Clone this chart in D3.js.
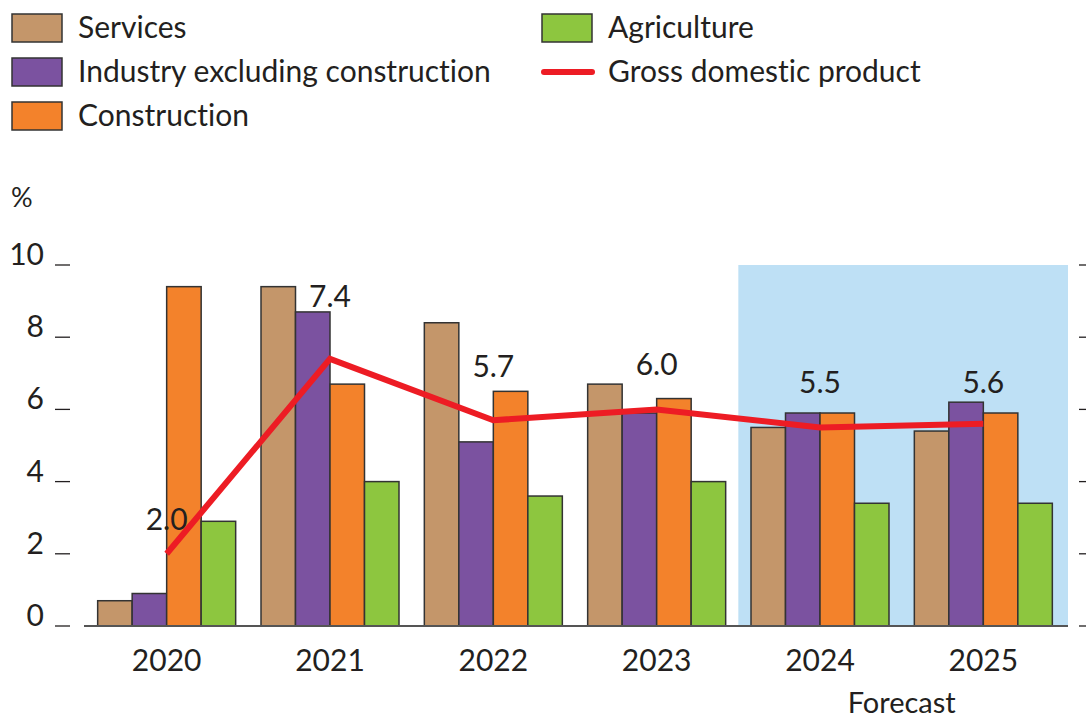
<!DOCTYPE html>
<html>
<head>
<meta charset="utf-8">
<script src="https://cdn.jsdelivr.net/npm/d3@7"></script>
<style>
  body { margin: 0; background: #fff; }
  svg text { font-family: Lato, "Open Sans", sans-serif; fill: #231F20; font-variant-ligatures: none; }
</style>
</head>
<body>
<div id="chart"></div>
<script>
// data
const years = ["2020", "2021", "2022", "2023", "2024", "2025"];
const seriesNames = ["Services", "Industry excluding construction", "Construction", "Agriculture"];
const services = [0.7, 9.4, 8.4, 6.7, 5.5, 5.4];
const industry = [0.9, 8.7, 5.1, 5.9, 5.9, 6.2];
const construction = [9.4, 6.7, 6.5, 6.3, 5.9, 5.9];
const agriculture = [2.9, 4.0, 3.6, 4.0, 3.4, 3.4];
const gdp = [2.0, 7.4, 5.7, 6.0, 5.5, 5.6];
// where each gdp label sits, in % units
const gdpLabelAt = [2.65, 8.85, 6.9, 6.95, 6.45, 6.45];
const forecastYears = ["2024", "2025"];
const yTicks = [0, 2, 4, 6, 8, 10];

const COLORS = ["#C4966A", "#7B52A0", "#F3822B", "#8DC63F"];
const GDP_COLOR = "#ED1C24";

// setting up constants
const FRAME_WIDTH = 1086;
const FRAME_HEIGHT = 720;
const MARGINS = {left: 85, right: 21, top: 265, bottom: 94};

const FRAME = d3.select("#chart")
    .append("svg")
    .attr("width", FRAME_WIDTH)
    .attr("height", FRAME_HEIGHT);

const values = [services, industry, construction, agriculture];
const rows = years.map((y, i) => ({year: y, vals: values.map(v => v[i])}));

// scales
const xScale = d3.scaleBand()
    .domain(years)
    .range([MARGINS.left, 1065]);
const xInner = d3.scaleBand()
    .domain(seriesNames)
    .range([-69, 69]);
const yScale = d3.scaleLinear()
    .domain([0, 10])
    .range([626, 265]);

// forecast shading
FRAME.append("rect")
    .attr("x", xScale(forecastYears[0]))
    .attr("y", yScale(10))
    .attr("width", 1068 - xScale(forecastYears[0]))
    .attr("height", yScale(0) - yScale(10))
    .attr("fill", "#BEE0F5");

// left axis: short ticks with labels
const leftAxis = FRAME.append("g");
leftAxis.selectAll("line")
    .data(yTicks)
    .enter().append("line")
    .attr("x1", 55).attr("x2", 70)
    .attr("y1", d => yScale(d)).attr("y2", d => yScale(d))
    .attr("stroke", "#231F20").attr("stroke-width", 1.3);
leftAxis.selectAll("text")
    .data(yTicks)
    .enter().append("text")
    .attr("x", 44)
    .attr("y", d => yScale(d))
    .attr("text-anchor", "end")
    .attr("font-size", 30)
    .text(d => d);

// right axis: ticks only
FRAME.append("g").selectAll("line")
    .data(yTicks)
    .enter().append("line")
    .attr("x1", 1079).attr("x2", 1086)
    .attr("y1", d => yScale(d)).attr("y2", d => yScale(d))
    .attr("stroke", "#231F20").attr("stroke-width", 1.3);

// "%" unit label
FRAME.append("text")
    .attr("x", 11).attr("y", 207)
    .attr("font-size", 27)
    .text("%");

// bars
FRAME.append("g").selectAll("g")
    .data(rows)
    .enter().append("g")
    .attr("transform", d => "translate(" + (xScale(d.year) + xScale.bandwidth() / 2) + ",0)")
    .selectAll("rect")
    .data(d => d.vals.map((v, k) => ({name: seriesNames[k], v: v, k: k})))
    .enter().append("rect")
    .attr("x", d => xInner(d.name))
    .attr("y", d => yScale(d.v))
    .attr("width", xInner.bandwidth())
    .attr("height", d => yScale(0) - yScale(d.v))
    .attr("fill", d => COLORS[d.k])
    .attr("stroke", "#333")
    .attr("stroke-width", 1.5);

// x axis line
FRAME.append("line")
    .attr("x1", 84).attr("x2", 1068)
    .attr("y1", yScale(0)).attr("y2", yScale(0))
    .attr("stroke", "#555").attr("stroke-width", 2);

// year labels
FRAME.append("g").selectAll("text")
    .data(years)
    .enter().append("text")
    .attr("x", d => xScale(d) + xScale.bandwidth() / 2)
    .attr("y", 671)
    .attr("text-anchor", "middle")
    .attr("font-size", 30)
    .text(d => d);

FRAME.append("text")
    .attr("x", (xScale(forecastYears[0]) + xScale(forecastYears[1]) + xScale.bandwidth()) / 2)
    .attr("y", 713)
    .attr("text-anchor", "middle")
    .attr("font-size", 29)
    .text("Forecast");

// gdp labels
FRAME.append("g").selectAll("text")
    .data(gdp)
    .enter().append("text")
    .attr("x", (d, i) => xScale(years[i]) + xScale.bandwidth() / 2)
    .attr("y", (d, i) => yScale(gdpLabelAt[i]))
    .attr("text-anchor", "middle")
    .attr("font-size", 30)
    .text(d => d.toFixed(1));

// gdp line
const line = d3.line()
    .x((d, i) => xScale(years[i]) + xScale.bandwidth() / 2)
    .y(d => yScale(d));
FRAME.append("path")
    .datum(gdp)
    .attr("d", line)
    .attr("fill", "none")
    .attr("stroke", GDP_COLOR)
    .attr("stroke-width", 6);

// legend
const legendItems = [
    {label: seriesNames[0], color: COLORS[0], x: 12, y: 28},
    {label: seriesNames[1], color: COLORS[1], x: 12, y: 72},
    {label: seriesNames[2], color: COLORS[2], x: 12, y: 116},
    {label: seriesNames[3], color: COLORS[3], x: 542, y: 28},
    {label: "Gross domestic product", color: GDP_COLOR, x: 542, y: 72, isLine: true}
];
const legend = FRAME.append("g");
legendItems.forEach(function(d) {
    if (d.isLine) {
        legend.append("line")
            .attr("x1", d.x + 2).attr("x2", d.x + 50)
            .attr("y1", d.y).attr("y2", d.y)
            .attr("stroke", d.color).attr("stroke-width", 6)
            .attr("stroke-linecap", "round");
    } else {
        legend.append("rect")
            .attr("x", d.x).attr("y", d.y - 14)
            .attr("width", 50).attr("height", 28)
            .attr("fill", d.color)
            .attr("stroke", "#333").attr("stroke-width", 1.5);
    }
    legend.append("text")
        .attr("x", d.x + 66)
        .attr("y", d.y + 10)
        .attr("font-size", 30)
        .text(d.label);
});
</script>
</body>
</html>
